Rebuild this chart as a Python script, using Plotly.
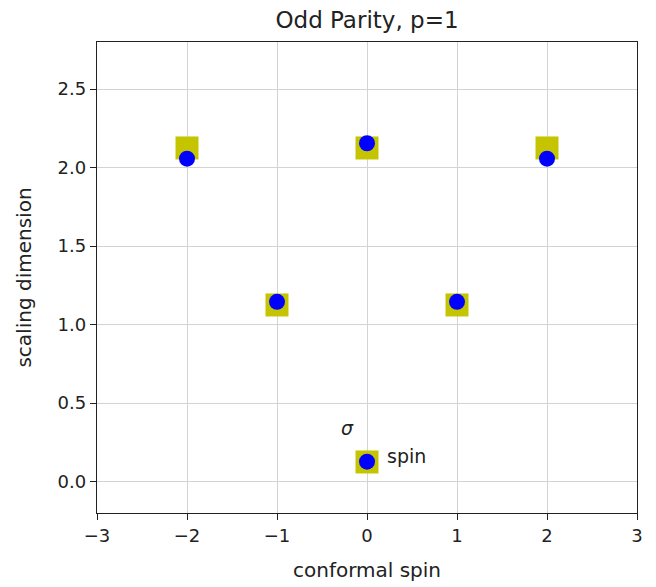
import plotly.graph_objects as go

# data
sq_x = [-2, 0, 2, -1, 1, 0]
sq_y = [2.125, 2.125, 2.125, 1.125, 1.125, 0.125]
pt_x = [-2, 0, 2, -1, 1, 0]
pt_y = [2.057, 2.155, 2.057, 1.145, 1.145, 0.127]
labels = ["σ", "spin"]
lab_x = [-0.22, 0.44]
lab_y = [0.34, 0.16]

fig = go.Figure()
fig.add_trace(go.Scatter(x=sq_x, y=sq_y, mode="markers",
                         marker=dict(symbol="square", size=23, color="#c4c400", line=dict(width=0)),
                         showlegend=False))
fig.add_trace(go.Scatter(x=pt_x, y=pt_y, mode="markers",
                         marker=dict(symbol="circle", size=16, color="#0000ff", line=dict(width=0)),
                         showlegend=False))
fig.add_annotation(x=lab_x[0], y=lab_y[0], text="<i>" + labels[0] + "</i>", showarrow=False,
                   font=dict(size=19, color="#222"))
fig.add_annotation(x=lab_x[1], y=lab_y[1], text=labels[1], showarrow=False,
                   font=dict(size=19, color="#222"))

axis_common = dict(showline=True, linecolor="#222", linewidth=1.3, mirror=True,
                   ticks="outside", ticklen=6, tickcolor="#222",
                   showgrid=True, gridcolor="#d3d3d3", gridwidth=1, zeroline=False,
                   tickfont=dict(size=18, color="#222"))
fig.update_xaxes(range=[-3, 3], dtick=1, tickformat="d",
                 title=dict(text="conformal spin", font=dict(size=20, color="#222"), standoff=18),
                 **axis_common)
fig.update_yaxes(range=[-0.2, 2.8], tickvals=[0, 0.5, 1.0, 1.5, 2.0, 2.5],
                 ticktext=["0.0", "0.5", "1.0", "1.5", "2.0", "2.5"],
                 title=dict(text="scaling dimension", font=dict(size=20, color="#222"), standoff=20),
                 **axis_common)
fig.update_layout(width=656, height=587, plot_bgcolor="white", paper_bgcolor="white",
                  margin=dict(l=89, r=27, t=34, b=82),
                  font=dict(family="DejaVu Sans"),
                  title=dict(text="Odd Parity, p=1", x=0.5, xref="paper", xanchor="center",
                             y=0.98, yanchor="middle",
                             font=dict(size=23, color="#222")))
fig.write_html("out.html")
